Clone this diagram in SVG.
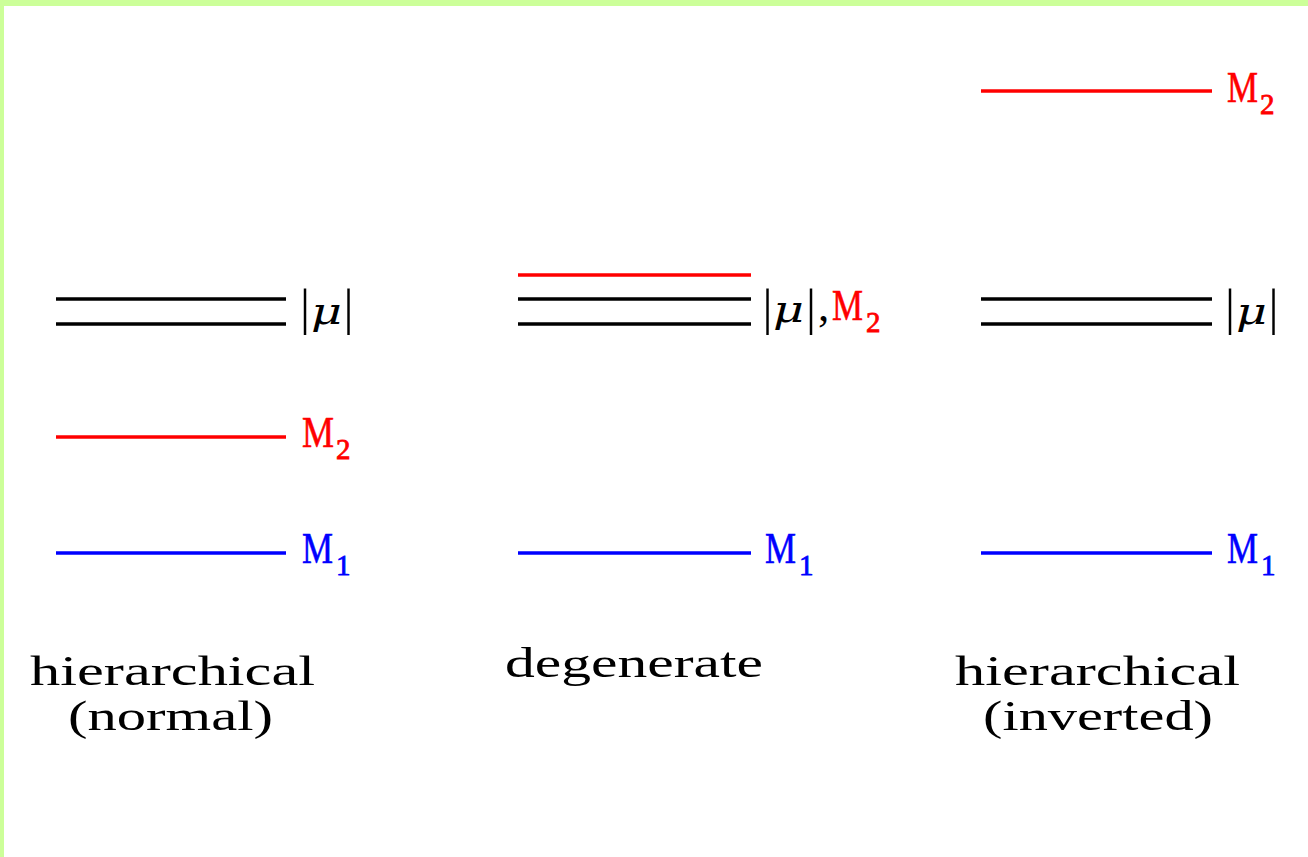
<svg xmlns="http://www.w3.org/2000/svg" width="1308" height="857" viewBox="0 0 1308 857">
<style>
.lvl{stroke-width:3.5;fill:none}
.k{stroke:#000}
.r{stroke:#FF0000}
.b{stroke:#0000FF}
text{font-family:"Liberation Serif","Times New Roman",serif;}
.M{font-size:45px;stroke-width:0.6}
.sub{font-size:29px;stroke-width:0.8}
.bar{font-size:50px;text-anchor:middle}
.mu{font-family:"DejaVu Serif",serif;font-size:38px;font-style:italic}
.cap{font-size:43px}
.tr{fill:#FF0000;stroke:#FF0000}
.tb{fill:#0000FF;stroke:#0000FF}
.tk{fill:#000}
</style>
<rect x="0" y="0" width="1308" height="857" fill="#FFFFFF"/>
<rect x="0" y="0" width="1308" height="6" fill="#CCFF99"/>
<rect x="0" y="0" width="4" height="857" fill="#CCFF99"/>

<g id="connectors"></g>

<!-- Left column: hierarchical (normal) -->
<g id="normal-mu">
<line class="lvl k" x1="56" y1="299" x2="286" y2="299"/>
<line class="lvl k" x1="56" y1="324" x2="286" y2="324"/>
<text class="bar tk" x="305" y="324">|</text>
<text class="mu tk" x="311" y="324" textLength="31" lengthAdjust="spacingAndGlyphs">μ</text>
<text class="bar tk" x="348.5" y="324">|</text>
</g>
<g id="normal-M2">
<line class="lvl r" x1="56" y1="437" x2="286" y2="437"/>
<text class="M tr" x="302" y="447" textLength="32" lengthAdjust="spacingAndGlyphs">M</text>
<text class="sub tr" x="336" y="459">2</text>
</g>
<g id="normal-M1">
<line class="lvl b" x1="56" y1="553" x2="286" y2="553"/>
<text class="M tb" x="302" y="563" textLength="31" lengthAdjust="spacingAndGlyphs">M</text>
<text class="sub tb" x="336" y="575">1</text>
</g>
<g id="normal-label">
<text class="cap tk" x="30" y="685" textLength="285" lengthAdjust="spacingAndGlyphs">hierarchical</text>
<text class="cap tk" x="68" y="730" textLength="205" lengthAdjust="spacingAndGlyphs">(normal)</text>
</g>

<!-- Middle column: degenerate -->
<g id="degenerate-mu-M2">
<line class="lvl r" x1="518" y1="275" x2="751" y2="275"/>
<line class="lvl k" x1="518" y1="299" x2="751" y2="299"/>
<line class="lvl k" x1="518" y1="324" x2="751" y2="324"/>
<text class="bar tk" x="767.5" y="324">|</text>
<text class="mu tk" x="773" y="322" textLength="31" lengthAdjust="spacingAndGlyphs">μ</text>
<text class="bar tk" x="811" y="324">|</text>
<text class="M tk" x="818" y="321">,</text>
<text class="M tr" x="832" y="320" textLength="31" lengthAdjust="spacingAndGlyphs">M</text>
<text class="sub tr" x="866" y="332">2</text>
</g>
<g id="degenerate-M1">
<line class="lvl b" x1="518" y1="553" x2="751" y2="553"/>
<text class="M tb" x="765" y="563" textLength="31" lengthAdjust="spacingAndGlyphs">M</text>
<text class="sub tb" x="799" y="575">1</text>
</g>
<g id="degenerate-label">
<text class="cap tk" x="505" y="677" textLength="258" lengthAdjust="spacingAndGlyphs">degenerate</text>
</g>

<!-- Right column: hierarchical (inverted) -->
<g id="inverted-M2">
<line class="lvl r" x1="981" y1="91" x2="1212" y2="91"/>
<text class="M tr" x="1227" y="102" textLength="31" lengthAdjust="spacingAndGlyphs">M</text>
<text class="sub tr" x="1260" y="114">2</text>
</g>
<g id="inverted-mu">
<line class="lvl k" x1="981" y1="299" x2="1212" y2="299"/>
<line class="lvl k" x1="981" y1="324" x2="1212" y2="324"/>
<text class="bar tk" x="1230" y="324">|</text>
<text class="mu tk" x="1236" y="324" textLength="31" lengthAdjust="spacingAndGlyphs">μ</text>
<text class="bar tk" x="1273.5" y="324">|</text>
</g>
<g id="inverted-M1">
<line class="lvl b" x1="981" y1="553" x2="1212" y2="553"/>
<text class="M tb" x="1227" y="563" textLength="31" lengthAdjust="spacingAndGlyphs">M</text>
<text class="sub tb" x="1261" y="575">1</text>
</g>
<g id="inverted-label">
<text class="cap tk" x="955" y="685" textLength="285" lengthAdjust="spacingAndGlyphs">hierarchical</text>
<text class="cap tk" x="983" y="730" textLength="230" lengthAdjust="spacingAndGlyphs">(inverted)</text>
</g>
</svg>
